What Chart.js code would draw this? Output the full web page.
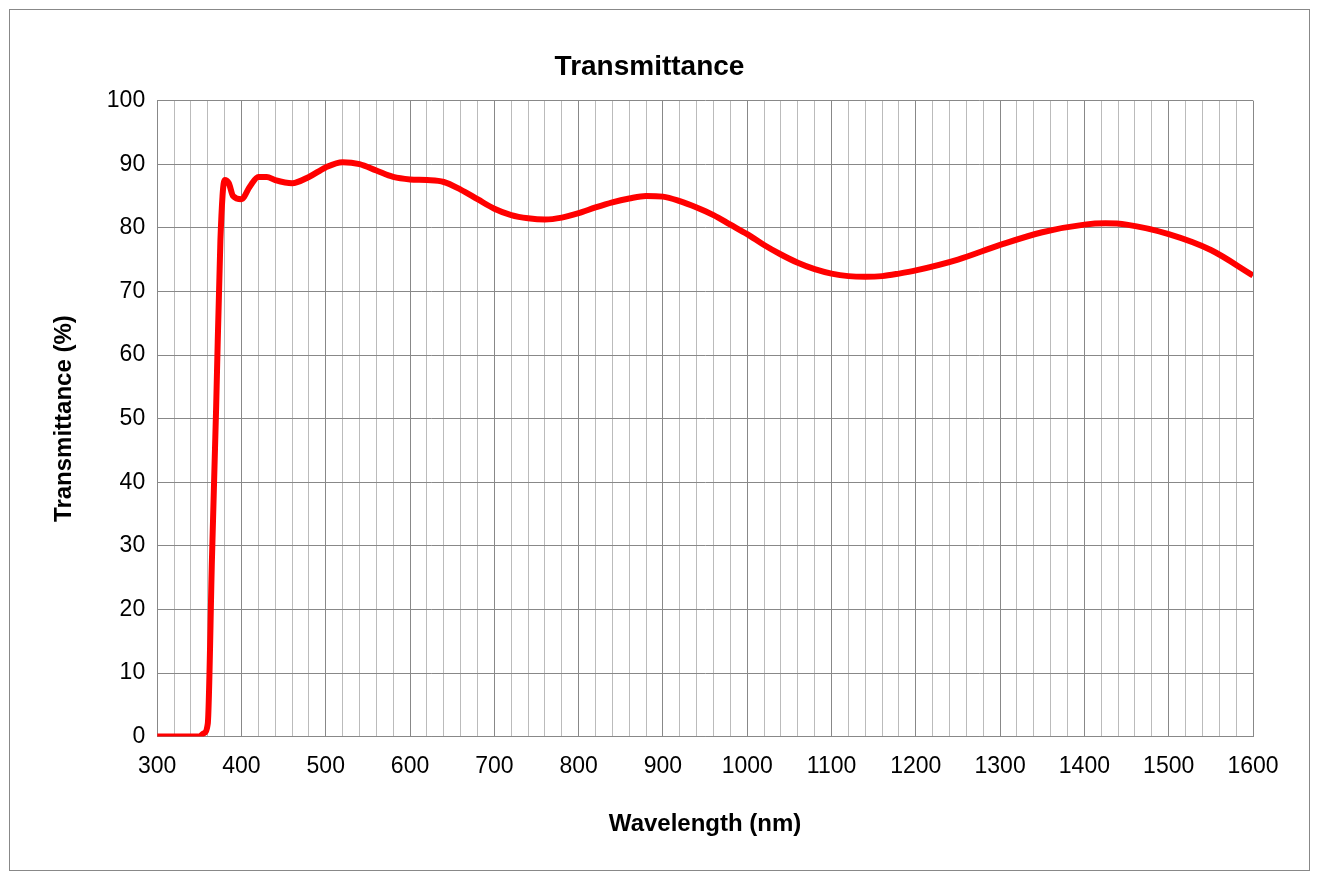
<!DOCTYPE html>
<html><head>
<script src="https://cdn.jsdelivr.net/npm/chart.js@4"></script>
<style>
html,body{margin:0;padding:0;background:#fff;}
#box{position:absolute;left:9px;top:9px;width:1301px;height:862px;border:1px solid #888;box-sizing:border-box;}
#c{position:absolute;left:0;top:0;}
</style>
</head><body>
<div id="box"></div>
<canvas id="c" width="1320" height="879"></canvas>
<script>
const wavelengths = [300,350,355,360,365,370,375,380,385,390,400,410,420,430,440,460,480,500,520,540,560,580,600,620,640,660,680,700,720,740,760,780,800,820,840,860,880,900,920,940,960,980,1000,1020,1040,1060,1080,1100,1120,1140,1160,1180,1200,1250,1300,1350,1400,1425,1450,1500,1550,1600];
const transmittance = [0,0,0.5,2,28,52,78,87.5,87,85,84.5,86.5,88,88,87.5,87,88,89.5,90.3,90,89,88,87.6,87.5,87.2,86,84.5,83,82,81.5,81.3,81.6,82.3,83.2,84,84.6,85,84.9,84.2,83.2,82,80.5,79,77.3,75.8,74.5,73.5,72.8,72.4,72.3,72.4,72.8,73.3,75,77.3,79.3,80.5,80.7,80.5,79,76.5,72.5];
const font = "'Liberation Sans', Arial, sans-serif";
new Chart(document.getElementById('c'), {
  type: 'line',
  data: { datasets: [{ data: wavelengths.map((x,i)=>({x, y: transmittance[i]})), borderColor: '#ff0000', borderWidth: 6, pointRadius: 0, cubicInterpolationMode: 'monotone', fill: false }]},
  options: {
    responsive: false, animation: false,
    layout: { padding: { left: 46, right: 67, top: 40, bottom: 36 } },
    plugins: { legend: { display: false }, tooltip: { enabled: false },
      title: { display: true, text: 'Transmittance', color: '#000', font: { family: font, size: 28, weight: 'bold' }, padding: { top: 10, bottom: 17 } } },
    scales: {
      x: { type: 'linear', min: 300, max: 1600,
        ticks: { stepSize: 20, autoSkip: false, maxRotation: 0, padding: 16, color: '#000', font: { family: font, size: 23 }, callback: v => v % 100 === 0 ? v : '' },
        grid: { color: c => (c.tick && c.tick.value % 100 === 0) ? '#888' : '#bbb', lineWidth: 1, drawTicks: false },
        border: { color: '#888' },
        title: { display: true, text: 'Wavelength (nm)', color: '#000', font: { family: font, size: 24, weight: 'bold' }, padding: { top: 14 } } },
      y: { min: 0, max: 100,
        ticks: { stepSize: 10, color: '#000', font: { family: font, size: 23 }, padding: 12 },
        grid: { color: '#888', drawTicks: false },
        border: { color: '#888' },
        title: { display: true, text: 'Transmittance (%)', color: '#000', font: { family: font, size: 24, weight: 'bold' }, padding: { bottom: 16 } } }
    }
  }
});
</script>
</body></html>
